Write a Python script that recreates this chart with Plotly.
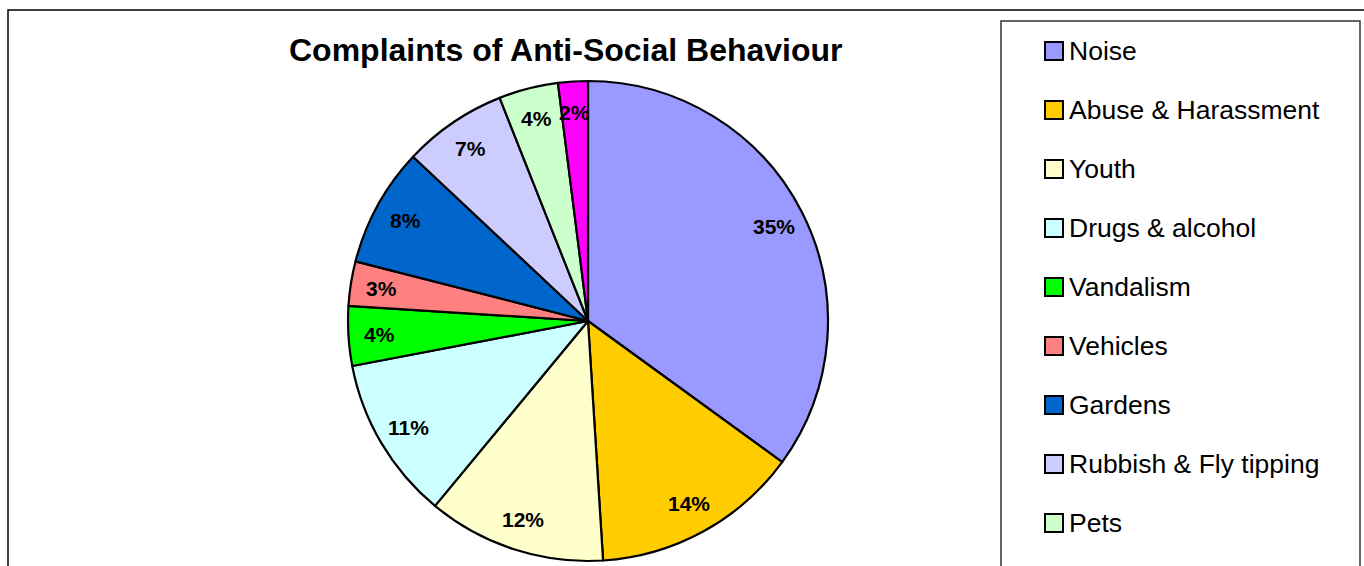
import math
import plotly.graph_objects as go

categories = ["Noise", "Abuse & Harassment", "Youth", "Drugs & alcohol", "Vandalism",
              "Vehicles", "Gardens", "Rubbish & Fly tipping", "Pets", "Other"]
shares = [35, 14, 12, 11, 4, 3, 8, 7, 4, 2]
colors = ["#9999FF", "#FFCC00", "#FFFFCC", "#CCFFFF", "#00FF00",
          "#FF8080", "#0066CC", "#CCCCFF", "#CCFFCC", "#FF00FF"]
title_text = "Complaints of Anti-Social Behaviour"

W, H = 1364, 566
FONT = "Arial, Liberation Sans, sans-serif"

def px(x):
    return x / W

def py(y):
    return 1 - y / H

cx, cy, r = 588, 321, 240

fig = go.Figure(go.Pie(
    labels=categories,
    values=shares,
    sort=False,
    direction="clockwise",
    rotation=0,
    marker=dict(colors=colors, line=dict(color="black", width=2.2)),
    textinfo="none",
    showlegend=False,
    hoverinfo="label+percent",
    domain=dict(x=[px(cx - r), px(cx + r)], y=[py(cy + r), py(cy - r)]),
))

shapes = [
    dict(type="rect", xref="paper", yref="paper", x0=px(8), x1=px(W + 20),
         y0=py(H + 20), y1=py(10), line=dict(color="black", width=1.5)),
    dict(type="rect", xref="paper", yref="paper", x0=px(1001), x1=px(1360),
         y0=py(H + 20), y1=py(21), line=dict(color="#333333", width=1.5)),
]
annotations = [
    dict(text="<b>" + title_text + "</b>", x=px(566), y=py(50), xref="paper", yref="paper",
         showarrow=False, xanchor="center", yanchor="middle",
         font=dict(family=FONT, size=32, color="black")),
]

# slice percentage labels, placed along each slice's bisector
total = sum(shares)
cum = 0
for v in shares:
    mid = (cum + v / 2) / total * 2 * math.pi
    cum += v
    lr = 0.87 * r
    lx = cx + lr * math.sin(mid)
    ly = cy - lr * math.cos(mid)
    annotations.append(dict(text="<b>%d%%</b>" % round(100 * v / total),
                            x=px(lx), y=py(ly), xref="paper", yref="paper",
                            showarrow=False, xanchor="center", yanchor="middle",
                            font=dict(family=FONT, size=21, color="black")))

for i, (name, col) in enumerate(zip(categories, colors)):
    yc = 51 + 59 * i
    if yc + 15 > H:
        break
    shapes.append(dict(type="rect", xref="paper", yref="paper",
                       x0=px(1045), x1=px(1063), y0=py(yc + 9), y1=py(yc - 9),
                       fillcolor=col, line=dict(color="black", width=2)))
    annotations.append(dict(text=name, x=px(1067), y=py(yc), xref="paper", yref="paper",
                            showarrow=False, xanchor="left", yanchor="middle",
                            font=dict(family=FONT, size=26.5, color="black")))

fig.update_layout(
    width=W, height=H,
    margin=dict(l=0, r=0, t=0, b=0),
    paper_bgcolor="white",
    plot_bgcolor="white",
    shapes=shapes,
    annotations=annotations,
)

fig.write_html("out.html")
